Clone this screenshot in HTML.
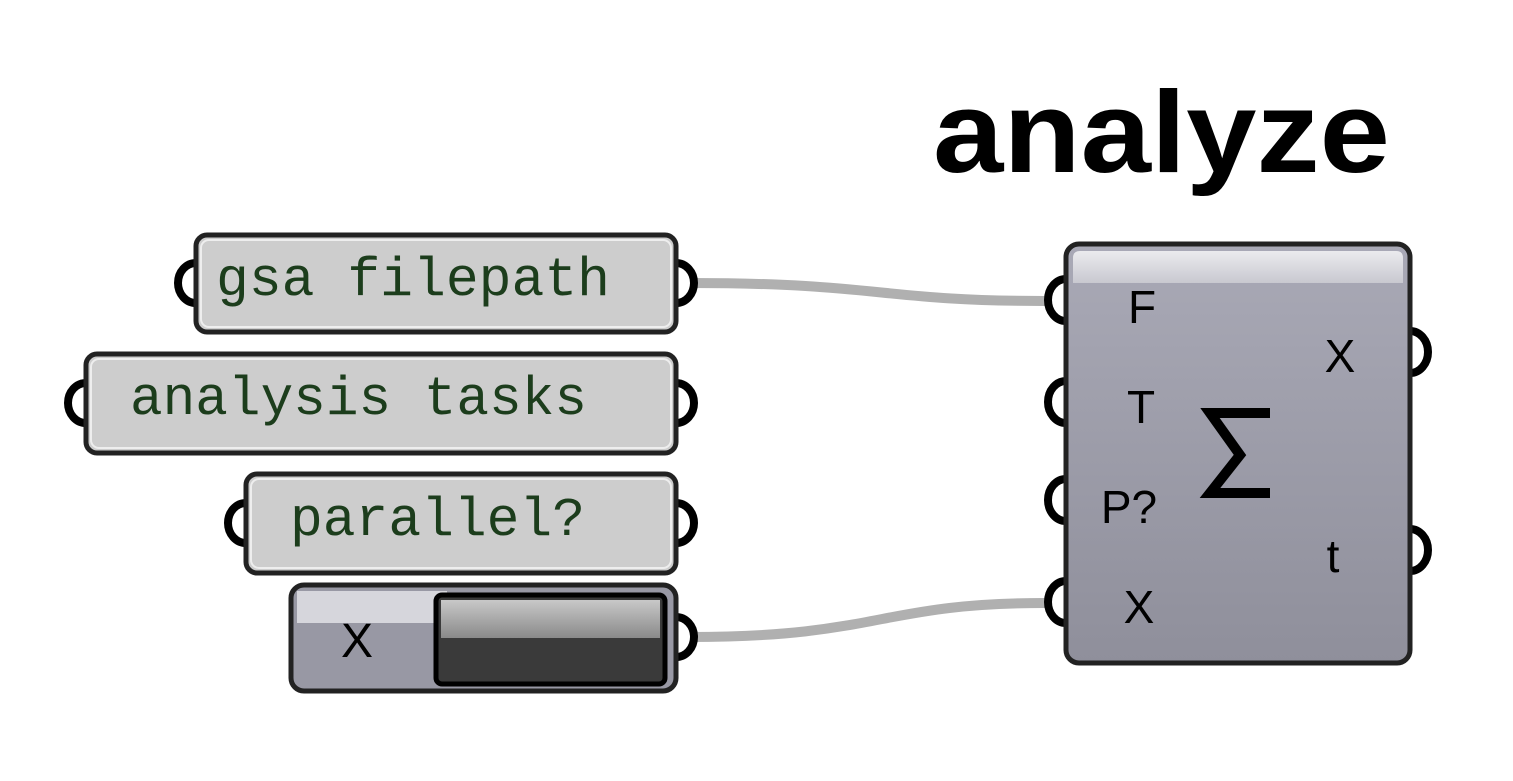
<!DOCTYPE html>
<html><head><meta charset="utf-8"><style>html,body{margin:0;padding:0;background:#fff}svg{display:block}</style></head>
<body>
<svg width="1513" height="781" viewBox="0 0 1513 781" xmlns="http://www.w3.org/2000/svg">
<defs>
<linearGradient id="comp" x1="0" y1="0" x2="0" y2="1">
<stop offset="0" stop-color="#a9a9b6"/><stop offset="1" stop-color="#8f8f9b"/>
</linearGradient>
<linearGradient id="hdr" x1="0" y1="0" x2="0" y2="1">
<stop offset="0" stop-color="#ebebee"/><stop offset="1" stop-color="#c8c8d0"/>
</linearGradient>
<linearGradient id="tg" x1="0" y1="0" x2="0" y2="1">
<stop offset="0" stop-color="#c8c8c8"/><stop offset="1" stop-color="#8a8a8a"/>
</linearGradient>
</defs>
<text x="933" y="172" font-family="Liberation Sans, sans-serif" font-weight="bold" font-size="116" fill="#000" textLength="457" lengthAdjust="spacingAndGlyphs">analyze</text>

<g fill="none" stroke="#b0b0b0" stroke-width="10">
<path d="M690 283 C 880 283, 880 301, 1045 301"/>
<path d="M690 637 C 880 637, 880 603, 1045 603"/>
</g>

<g fill="#fff" stroke="#000" stroke-width="8">
<ellipse cx="196" cy="283" rx="18" ry="20"/><ellipse cx="676" cy="283" rx="18" ry="20"/>
<ellipse cx="86" cy="403" rx="18" ry="20"/><ellipse cx="676" cy="403" rx="18" ry="20"/>
<ellipse cx="246" cy="523" rx="18" ry="20"/><ellipse cx="676" cy="523" rx="18" ry="20"/>
<ellipse cx="676" cy="637" rx="18" ry="20"/>
<ellipse cx="1066" cy="300" rx="18" ry="21"/>
<ellipse cx="1066" cy="402" rx="18" ry="21"/>
<ellipse cx="1066" cy="500" rx="18" ry="21"/>
<ellipse cx="1066" cy="602" rx="18" ry="21"/>
<ellipse cx="1410" cy="352" rx="18" ry="21"/>
<ellipse cx="1410" cy="550" rx="18" ry="21"/>
</g>

<g stroke="#222" stroke-width="5">
<rect x="196" y="235" width="480" height="97" rx="11" fill="#cdcdcd"/>
<rect x="86" y="354" width="590" height="99" rx="11" fill="#cdcdcd"/>
<rect x="246" y="474" width="430" height="99" rx="11" fill="#cdcdcd"/>
</g>
<g fill="none" stroke="#eee" stroke-width="2">
<rect x="201" y="240" width="470" height="87" rx="8"/>
<rect x="91" y="359" width="580" height="89" rx="8"/>
<rect x="251" y="479" width="420" height="89" rx="8"/>
</g>
<g font-family="Liberation Mono, monospace" font-size="55" fill="#1c3d1c">
<text x="216" y="295" textLength="394" lengthAdjust="spacingAndGlyphs">gsa filepath</text>
<text x="130" y="414" textLength="457" lengthAdjust="spacingAndGlyphs">analysis tasks</text>
<text x="290" y="535" textLength="295" lengthAdjust="spacingAndGlyphs">parallel?</text>
</g>

<!-- toggle -->
<rect x="291" y="585" width="385" height="106" rx="13" fill="#9898a4" stroke="#222" stroke-width="5"/>
<rect x="297" y="591" width="150" height="32" fill="#d6d6dc"/>
<text x="357" y="657" font-family="Liberation Sans, sans-serif" font-size="48" fill="#000" text-anchor="middle">X</text>
<rect x="436" y="595" width="229" height="89" rx="6" fill="#3a3a3a" stroke="#000" stroke-width="5"/>
<rect x="441" y="600" width="219" height="38" fill="url(#tg)"/>

<!-- component -->
<rect x="1066" y="244" width="344" height="419" rx="13" fill="url(#comp)" stroke="#222" stroke-width="5"/>
<path d="M1073 283 V258 Q1073 251 1080 251 H1396 Q1403 251 1403 258 V283 Z" fill="url(#hdr)"/>
<g font-family="Liberation Sans, sans-serif" font-size="46" fill="#000" text-anchor="middle">
<text x="1142" y="323">F</text>
<text x="1141" y="423">T</text>
<text x="1129" y="523">P?</text>
<text x="1139" y="623">X</text>
<text x="1340" y="372">X</text>
<text x="1333" y="572">t</text>
</g>
<path d="M1270 413 H1210 L1240 455 L1210 493 H1270" fill="none" stroke="#000" stroke-width="10" stroke-linejoin="miter"/>
</svg>
</body></html>
